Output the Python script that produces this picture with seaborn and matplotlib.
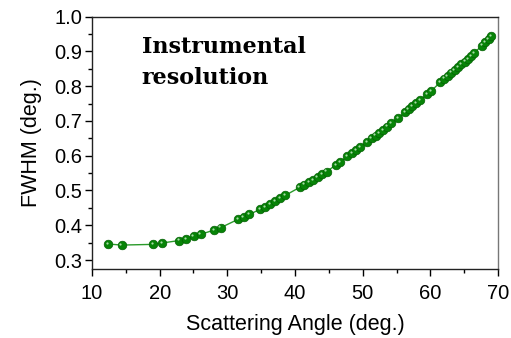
import numpy as np
import pandas as pd
import seaborn as sns
import matplotlib.pyplot as plt
from matplotlib.ticker import MultipleLocator
from matplotlib.transforms import offset_copy

sns.set_style('ticks')
plt.rcParams['font.family'] = ['Liberation Sans', 'DejaVu Sans']
plt.rcParams.update({'text.color': 'black', 'axes.labelcolor': 'black',
                     'xtick.color': 'black', 'ytick.color': 'black'})

angle = [12.41, 14.39, 19.06, 20.39, 22.86, 23.94, 25.03, 26.06, 28.03, 29.02,
         31.58, 32.39, 33.27, 34.83, 35.61, 36.35, 37.09, 37.83, 38.57,
         40.69, 41.37, 42.07, 42.70, 43.35, 44.03, 44.68, 46.06, 46.65,
         47.73, 48.42, 49.06, 49.65, 50.68, 51.33, 51.92, 52.46, 53.00,
         53.59, 54.18, 55.26, 56.25, 56.80, 57.33, 57.88, 58.47, 59.55,
         60.10, 61.50, 62.02, 62.54, 63.05, 63.57, 64.09, 64.60, 65.12,
         65.57, 66.01, 66.45, 67.63, 68.12, 68.62, 69.00]
fwhm = [0.346, 0.343, 0.345, 0.349, 0.356, 0.361, 0.368, 0.374, 0.386, 0.393,
        0.417, 0.424, 0.431, 0.446, 0.453, 0.461, 0.470, 0.478, 0.486,
        0.509, 0.517, 0.524, 0.530, 0.539, 0.547, 0.554, 0.574, 0.581,
        0.598, 0.607, 0.617, 0.625, 0.640, 0.650, 0.658, 0.665, 0.674,
        0.684, 0.693, 0.708, 0.725, 0.734, 0.743, 0.752, 0.760, 0.777,
        0.786, 0.812, 0.822, 0.830, 0.839, 0.847, 0.855, 0.863, 0.871,
        0.879, 0.887, 0.895, 0.917, 0.926, 0.936, 0.944]
df = pd.DataFrame({'angle': angle, 'fwhm': fwhm})

fig = plt.figure(figsize=(5.11, 3.38), dpi=100)
ax = fig.add_axes([0.180, 0.204, 0.7946, 0.7466])

sns.lineplot(data=df, x='angle', y='fwhm', ax=ax, color='#2a9a2a', lw=1.0,
             marker='o', markersize=6.2, markerfacecolor='#078407',
             markeredgecolor='#046004', markeredgewidth=0.5, zorder=3)
# little shine on the balls
shine = offset_copy(ax.transData, fig=fig, x=-0.9, y=0.9, units='points')
ax.plot(df.angle, df.fwhm, ls='none', marker='o', markersize=1.6,
        color='#a8dca8', markeredgewidth=0, transform=shine, zorder=4)

ax.set_xlim(10, 70)
ax.set_ylim(0.274, 1.0)
ax.xaxis.set_major_locator(MultipleLocator(10))
ax.xaxis.set_minor_locator(MultipleLocator(5))
ax.yaxis.set_major_locator(MultipleLocator(0.1))
ax.yaxis.set_minor_locator(MultipleLocator(0.05))
ax.set_yticks(np.arange(0.3, 1.01, 0.1))
ax.tick_params(which='major', direction='out', length=5, width=1, labelsize=14.5)
ax.tick_params(axis='x', which='major', pad=6)
ax.tick_params(axis='y', which='major', pad=2)
ax.tick_params(which='minor', direction='out', length=3, width=1)
for s in ax.spines.values():
    s.set_visible(True)
    s.set_linewidth(1.0)
    s.set_color('#222222')
ax.spines['right'].set_color('#777777')

ax.set_xlabel('Scattering Angle (deg.)', fontsize=15.5, labelpad=8)
ax.set_ylabel('FWHM (deg.)', fontsize=15.5, labelpad=9)

ax.text(0.122, 0.925, 'Instrumental\nresolution', transform=ax.transAxes,
        ha='left', va='top', fontsize=16, fontweight='bold',
        family='DejaVu Serif', linespacing=1.55, color='black')

fig.savefig('out.png', dpi=100)
